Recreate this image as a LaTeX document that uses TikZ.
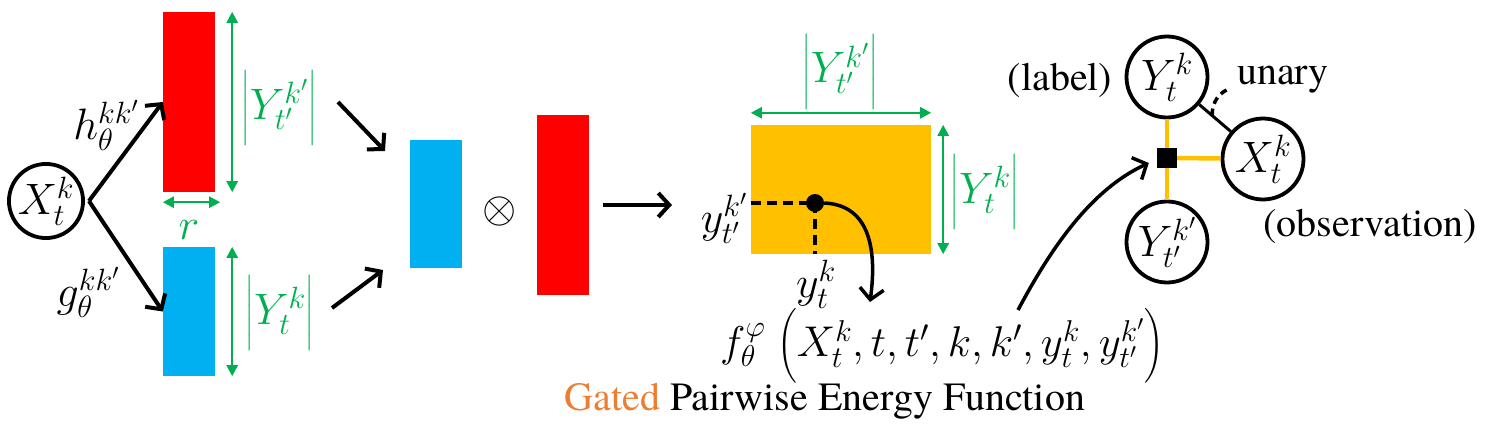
\RequirePackage{fix-cm}
\documentclass[tikz,border=0pt]{standalone}
\usepackage{amsmath}
\usepackage{fontspec}
\IfFontExistsTF{texgyretermes-regular.otf}
  {\newfontfamily\tmsfont{texgyretermes-regular.otf}}
  {\newfontfamily\tmsfont{lmroman10-regular.otf}}
\usetikzlibrary{arrows.meta,calc}
\definecolor{grn}{HTML}{00B050}
\definecolor{barred}{HTML}{FF0000}
\definecolor{barblue}{HTML}{00B0F0}
\definecolor{orng}{HTML}{FFC000}
\definecolor{gated}{HTML}{ED7D31}
\begin{document}
\begin{tikzpicture}[x=1pt,y=-1pt,
  mfont/.style={font=\fontsize{44}{52}\selectfont},
  lab/.style={inner sep=0pt, mfont},
  glab/.style={lab, text=grn},
  circ/.style={circle, draw, line width=3.8pt, inner sep=0pt, mfont},
  bar/.style={inner sep=0pt, minimum width=52pt},
  arr/.style={line width=4pt, -{Straight Barb[length=11pt,width=24pt]}},
  dim/.style={grn, line width=2.5pt, {Triangle[length=11pt,width=11pt]}-{Triangle[length=11pt,width=11pt]}},
  txt/.style={inner sep=0pt, font=\tmsfont\fontsize{40}{46}\selectfont},
  dsh/.style={line width=3.5pt, dash pattern=on 10pt off 6pt}]
\useasboundingbox (0,0) rectangle (1486,436);
% left part
\node[circ, minimum size=74pt] (X1) at (46,201) {$X_t^k$};
\node[bar, fill=barred, minimum height=180pt] (R1) at (189,102) {};
\node[bar, fill=barblue, minimum height=129pt] (B1) at (189,311.5) {};
\draw[arr] ($(X1.east)+(4,0)$) -- (R1.west);
\draw[arr] ($(X1.east)+(4,0)$) -- (B1.west);
\node[lab] (h) at (106,125) {$h_\theta^{kk'}$};
\node[lab] (g) at (88,292) {$g_\theta^{kk'}$};
\draw[dim] ($(R1.north east)+(17,0)$) -- ($(R1.south east)+(17,0)$);
\draw[dim] ($(R1.south west)+(0,10)$) -- ($(R1.south east)+(5,10)$);
\node[glab] (r) at (189,230) {$r$};
\draw[dim] ($(B1.north east)+(17,0)$) -- ($(B1.south east)+(17,0)$);
\node[glab] (lY1) at (279,108) {$\Bigl|Y_{t'}^{k'}\Bigr|$};
\node[glab] (lY2) at (280,313) {$\Bigl|Y_t^k\Bigr|$};
% middle
\coordinate (a1s) at (338,102);
\coordinate (a1e) at (385,151);
\coordinate (a2s) at (332,308);
\coordinate (a2e) at (383,270);
\draw[arr] (a1s) -- (a1e);
\draw[arr] (a2s) -- (a2e);
\node[bar, fill=barblue, minimum height=128pt] (B2) at (436,204) {};
\node[lab] (ot) at (500,211) {$\otimes$};
\node[bar, fill=barred, minimum height=180pt] (R2) at (563,205) {};
\coordinate (a3e) at (672,205);
\draw[arr] ($(R2.east)+(14,0)$) -- (a3e);
% orange matrix
\node[inner sep=0pt, fill=orng, minimum width=180pt, minimum height=129pt] (O) at (841,189.5) {};
\node[circle, fill, minimum size=18pt, inner sep=0pt] (dot) at (815,203) {};
\draw[dsh] (O.west |- dot) -- (dot.center) -- (dot |- O.south);
\draw[dim] ($(O.north west)+(0,-12)$) -- ($(O.north east)+(0,-12)$);
\draw[dim] ($(O.north east)+(12,0)$) -- ($(O.south east)+(12,0)$);
\node[glab] (lY3) at (840,72) {$\Bigl|Y_{t'}^{k'}\Bigr|$};
\node[glab] (lY4) at (985,192) {$\Bigl|Y_t^k\Bigr|$};
\node[lab] (yk1) at (724,218) {$y_{t'}^{k'}$};
\node[lab] (yk2) at (816,284) {$y_t^k$};
\draw[arr, line width=3.5pt] (dot.east) .. controls (870,205) and (877,250) .. (870,302);
\node[lab, font=\fontsize{43}{50}\selectfont] (f) at (942,346) {$f_\theta^\varphi\;\Bigl(X_t^k, t, t', k, k', y_t^k, y_{t'}^{k'}\Bigr)$};
\node[txt] (title) at (825,401) {\textcolor{gated}{Gated} Pairwise Energy Function};
% right graph
\node[circ, minimum size=81pt] (Y1) at (1167,77) {$Y_t^k$};
\node[circ, minimum size=81pt] (X2) at (1263,159) {$X_t^k$};
\node[circ, minimum size=81pt] (Y2) at (1167,242) {$Y_{t'}^{k'}$};
\node[fill, minimum size=20pt, inner sep=0pt] (S) at (1167,158) {};
\draw[orng, line width=4.5pt] (S.north) -- (Y1);
\draw[orng, line width=4.5pt] (S.south) -- (Y2);
\draw[orng, line width=4.5pt] (S.east) -- (X2);
\draw[line width=3pt] (Y1) -- (X2);
\coordinate (um) at ($(Y1)!0.47!(X2)$);
\coordinate (ue) at (1231,88);
\draw[line width=3.5pt, dash pattern=on 7pt off 5pt] (um) .. controls ($(um)+(0,-15)$) and (1220,92) .. (ue);
\node[txt] (lbl) at (1060,80) {(label)};
\node[txt] (un) at (1283,80) {unary};
\node[txt] (obs) at (1370,226) {(observation)};
\coordinate (fs) at (1018,310);
\draw[arr, line width=3.5pt] (fs) .. controls (1050,250) and (1090,190) .. ($(S.west)+(-8,5)$);
\end{tikzpicture}
\end{document}
